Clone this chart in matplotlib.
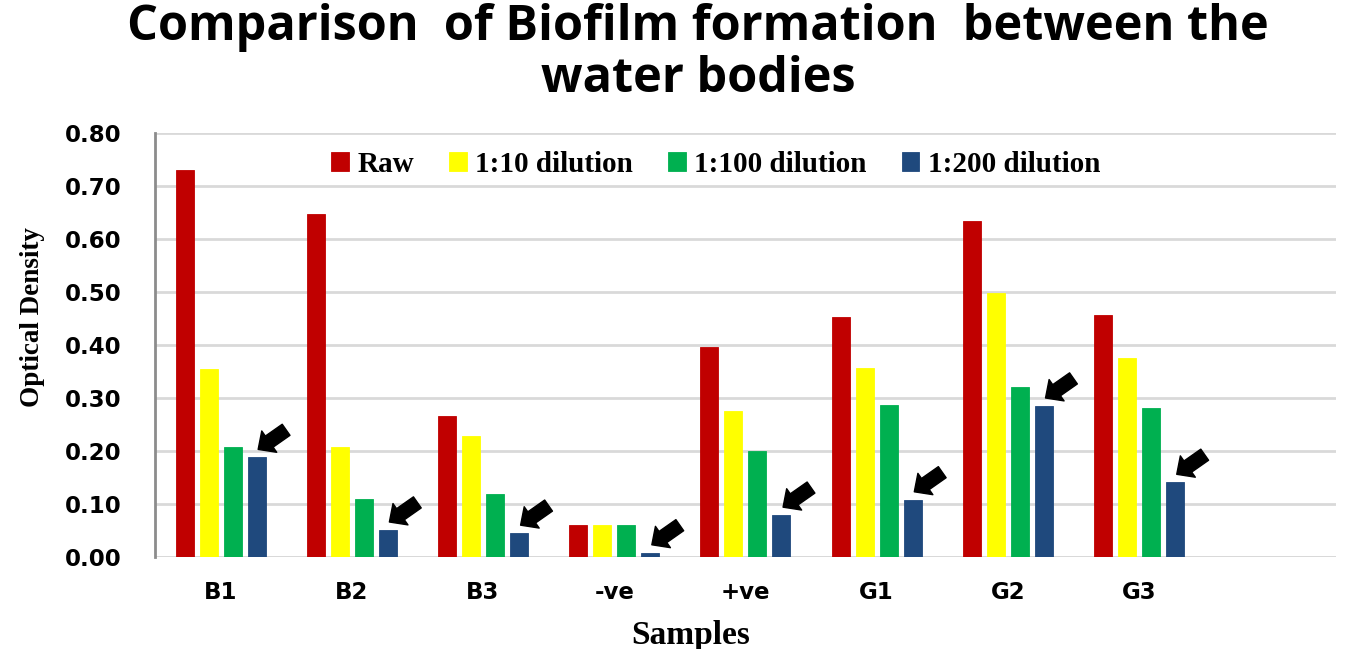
import numpy as np
import matplotlib
matplotlib.use("Agg")
import matplotlib.pyplot as plt

# Samples and optical density readings per dilution
samples = ["B1", "B2", "B3", "-ve", "+ve", "G1", "G2", "G3"]
raw = [0.730, 0.648, 0.266, 0.060, 0.396, 0.453, 0.634, 0.457]
dil_10 = [0.355, 0.207, 0.228, 0.060, 0.275, 0.357, 0.499, 0.375]
dil_100 = [0.207, 0.109, 0.119, 0.060, 0.200, 0.286, 0.321, 0.282]
dil_200 = [0.188, 0.051, 0.045, 0.008, 0.079, 0.108, 0.285, 0.141]

series_names = ["Raw", "1:10 dilution", "1:100 dilution", "1:200 dilution"]
series_colors = ["#c00000", "#ffff00", "#00b050", "#1f497d"]
yticks = [0.0, 0.1, 0.2, 0.3, 0.4, 0.5, 0.6, 0.7, 0.8]

fig = plt.figure(figsize=(13.45, 6.49), dpi=100)
ax = fig.add_axes([0.1152, 0.1418, 0.8781, 0.6532])

n_slots = len(samples) + 1  # one empty slot on the right
x = np.arange(len(samples)) + 0.5
bar_w = 0.137
step = 0.183
offsets = (np.arange(4) - 1.5) * step

all_series = [raw, dil_10, dil_100, dil_200]
for vals, name, col, off in zip(all_series, series_names, series_colors, offsets):
    ax.bar(x + off, vals, width=bar_w, color=col, label=name, zorder=3,
           edgecolor=col, linewidth=0.6)

# arrows pointing at the 1:200 dilution bars
for xi, v in zip(x + offsets[3], dil_200):
    ax.annotate("", xy=(xi + 0.012, v + 0.015), xytext=(xi + 0.225, v + 0.052),
                arrowprops=dict(arrowstyle="simple,head_length=0.65,head_width=1.25,tail_width=0.65",
                                fc="black", ec="black", mutation_scale=15,
                                shrinkA=0, shrinkB=0), zorder=5)

ax.set_xlim(0, n_slots)
ax.set_ylim(0, 0.8)
ax.set_yticks(yticks)
ax.set_yticklabels([f"{t:.2f}" for t in yticks], fontfamily="DejaVu Sans",
                   fontweight="bold", fontsize=16.5)
ax.set_xticks(x)
ax.set_xticklabels(samples, fontfamily="DejaVu Sans", fontweight="bold", fontsize=16.5)
ax.tick_params(axis="y", length=0, pad=24)
ax.tick_params(axis="x", length=0, pad=17)

ax.yaxis.grid(True, color="#d9d9d9", linewidth=2, zorder=0)
ax.set_axisbelow(True)
for s in ["top", "right", "bottom"]:
    ax.spines[s].set_visible(False)
ax.spines["left"].set_color("#8c8c8c")
ax.spines["left"].set_linewidth(2)
ax.axhline(0, color="#d9d9d9", linewidth=2, zorder=1)

ax.set_xlabel("Samples", fontfamily="Liberation Serif", fontweight="bold", fontsize=24,
              labelpad=12, x=0.454)
ax.set_ylabel("Optical Density", fontfamily="Liberation Serif", fontweight="bold", fontsize=19.5)
ax.yaxis.set_label_coords(-0.093, 0.566)

leg = ax.legend(loc="upper center", bbox_to_anchor=(0.475, 1.02), ncol=4, frameon=False,
                prop=dict(family="Liberation Serif", weight="bold", size=21),
                handlelength=0.6, handleheight=0.6, handletextpad=0.3, columnspacing=1.2)

fig.text(0.519, 0.957, "Comparison  of Biofilm formation  between the",
         ha="center", va="center", fontfamily="Open Sans", fontweight="bold", fontsize=35)
fig.text(0.519, 0.877, "water bodies",
         ha="center", va="center", fontfamily="Open Sans", fontweight="bold", fontsize=35)

fig.savefig("out.png", dpi=100, facecolor="white")
